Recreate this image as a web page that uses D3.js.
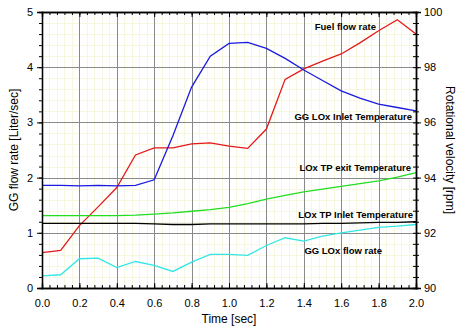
<!DOCTYPE html>
<meta charset="utf-8">
<style>
body { margin: 0; background: #fff; }
text { font-family: Arial, "Liberation Sans", sans-serif; }
.tick text { font-size: 11px; fill: #000; }
.label { font-size: 9.5px; font-weight: bold; }
.title { font-size: 12px; }
</style>
<svg width="459" height="328"></svg>
<script src="https://cdn.jsdelivr.net/npm/d3@7"></script>
<script>

// time axis, 0.1 s steps
var time = [0, 0.1, 0.2, 0.3, 0.4, 0.5, 0.6, 0.7, 0.8, 0.9, 1.0, 1.1, 1.2, 1.3, 1.4, 1.5, 1.6, 1.7, 1.8, 1.9, 2.0];

// values read in left-axis units (GG flow rate)
var fuelFlow    = [0.64, 0.68, 1.13, 1.47, 1.82, 2.41, 2.54, 2.54, 2.61, 2.63, 2.57, 2.53, 2.88, 3.78, 3.97, 4.11, 4.24, 4.44, 4.66, 4.86, 4.60];
var ggLoxInlet  = [1.86, 1.86, 1.85, 1.86, 1.85, 1.86, 1.96, 2.76, 3.64, 4.20, 4.43, 4.45, 4.34, 4.16, 3.95, 3.76, 3.57, 3.44, 3.33, 3.27, 3.21];
var loxTpExit   = [1.31, 1.31, 1.31, 1.31, 1.31, 1.32, 1.34, 1.36, 1.39, 1.42, 1.46, 1.53, 1.61, 1.68, 1.74, 1.79, 1.84, 1.89, 1.94, 2.01, 2.09];
var loxTpInlet  = [1.17, 1.17, 1.17, 1.17, 1.17, 1.17, 1.16, 1.15, 1.15, 1.16, 1.16, 1.16, 1.16, 1.16, 1.16, 1.17, 1.17, 1.18, 1.19, 1.19, 1.20];
var ggLoxFlow   = [0.22, 0.24, 0.53, 0.54, 0.37, 0.48, 0.41, 0.30, 0.47, 0.61, 0.61, 0.59, 0.77, 0.91, 0.85, 0.94, 1.00, 1.05, 1.10, 1.12, 1.15];

var seriesNames = ["Fuel flow rate", "GG LOx Inlet Temperature", "LOx TP exit Temperature", "LOx TP Inlet Temperature", "GG LOx flow rate"];
var seriesColors = ["#e31a1a", "#1a1ae0", "#22dd22", "#000000", "#33e6e6"];
var seriesValues = [fuelFlow, ggLoxInlet, loxTpExit, loxTpInlet, ggLoxFlow];

var xTicks = [0, 0.2, 0.4, 0.6, 0.8, 1.0, 1.2, 1.4, 1.6, 1.8, 2.0];
var yTicks = [0, 1, 2, 3, 4, 5];
var y2Ticks = [90, 92, 94, 96, 98, 100];

var svg = d3.select("svg"),
    margin = {top: 12, right: 43, bottom: 40, left: 42},
    width = 459 - margin.left - margin.right,
    height = 328 - margin.top - margin.bottom;

var x = d3.scaleLinear().domain([0, 2]).range([0, width]);
var y = d3.scaleLinear().domain([0, 5]).range([height, 0]);
var y2 = d3.scaleLinear().domain([90, 100]).range([height, 0]);

var g = svg.append("g")
    .attr("transform", "translate(" + margin.left + "," + margin.top + ")");

// minor grid (pale yellow)
var xMinor = d3.range(0, 2.0001, 0.04);
var yMinor = d3.range(0, 5.0001, 0.2);
g.append("g").selectAll("line").data(xMinor).enter().append("line")
    .attr("x1", d => Math.round(x(d)) + 0.5).attr("x2", d => Math.round(x(d)) + 0.5)
    .attr("y1", 0).attr("y2", height)
    .attr("stroke", "#f7f7e0");
g.append("g").selectAll("line").data(yMinor).enter().append("line")
    .attr("y1", d => Math.round(y(d)) + 0.5).attr("y2", d => Math.round(y(d)) + 0.5)
    .attr("x1", 0).attr("x2", width)
    .attr("stroke", "#f7f7e0");

// major grid
g.append("g").selectAll("line").data(xTicks).enter().append("line")
    .attr("x1", d => Math.round(x(d)) + 0.5).attr("x2", d => Math.round(x(d)) + 0.5)
    .attr("y1", 0).attr("y2", height)
    .attr("stroke", "#8a8a8a");
g.append("g").selectAll("line").data(yTicks).enter().append("line")
    .attr("y1", d => Math.round(y(d)) + 0.5).attr("y2", d => Math.round(y(d)) + 0.5)
    .attr("x1", 0).attr("x2", width)
    .attr("stroke", "#8a8a8a");

// series
var line = d3.line()
    .x((d, i) => x(time[i]))
    .y(d => y(d));

seriesValues.forEach(function(vals, k) {
  g.append("path")
      .datum(vals)
      .attr("fill", "none")
      .attr("stroke", seriesColors[k])
      .attr("stroke-width", 1.3)
      .attr("d", line);
});

// axes
function styleAxis(sel) {
  sel.select(".domain").attr("stroke", "#000").attr("stroke-width", 1.3);
  sel.selectAll(".tick line").attr("stroke", "#000");
}

g.append("g")
    .attr("transform", "translate(0," + height + ")")
    .call(d3.axisBottom(x).tickValues(xMinor).tickSize(-3).tickFormat(""))
    .call(styleAxis);
g.append("g")
    .attr("transform", "translate(0," + height + ")")
    .call(d3.axisBottom(x).tickValues(xTicks).tickSize(-5).tickPadding(11).tickFormat(d3.format(".1f")))
    .call(styleAxis);
g.append("g")
    .call(d3.axisTop(x).tickValues(xMinor).tickSize(-3).tickFormat(""))
    .call(styleAxis);
g.append("g")
    .call(d3.axisTop(x).tickValues(xTicks).tickSize(-5).tickFormat(""))
    .call(styleAxis);

g.append("g")
    .call(d3.axisLeft(y).tickValues(yMinor).tickSize(3).tickFormat(""))
    .call(styleAxis);
g.append("g")
    .call(d3.axisLeft(y).tickValues(yTicks).tickSize(5).tickPadding(4).tickFormat(d3.format("d")))
    .call(styleAxis);

var y2Minor = d3.range(90, 100.0001, 0.4);
var right = g.append("g").attr("transform", "translate(" + width + ",0)");
right.append("g")
    .call(d3.axisRight(y2).tickValues(y2Minor).tickSize(3).tickFormat(""))
    .call(styleAxis);
right.append("g")
    .call(d3.axisLeft(y2).tickValues(y2Minor).tickSize(3).tickFormat(""))
    .call(styleAxis);
right.append("g")
    .call(d3.axisRight(y2).tickValues(y2Ticks).tickSize(5).tickPadding(3).tickFormat(d3.format("d")))
    .call(styleAxis);

// series labels
var labelPos = [[376, 30], [412, 120], [411, 171], [413, 218], [382, 254]];
svg.append("g").selectAll("text").data(seriesNames).enter().append("text")
    .attr("class", "label")
    .attr("x", (d, i) => labelPos[i][0])
    .attr("y", (d, i) => labelPos[i][1])
    .attr("text-anchor", "end")
    .text(d => d);

// axis titles
svg.append("text")
    .attr("class", "title")
    .attr("transform", "translate(18," + (margin.top + height / 2) + ") rotate(-90)")
    .attr("text-anchor", "middle")
    .text("GG flow rate [Liter/sec]");
svg.append("text")
    .attr("class", "title")
    .attr("transform", "translate(446," + (margin.top + height / 2) + ") rotate(90)")
    .attr("text-anchor", "middle")
    .text("Rotational velocity [rpm]");
svg.append("text")
    .attr("class", "title")
    .attr("x", margin.left + width / 2)
    .attr("y", 323)
    .attr("text-anchor", "middle")
    .text("Time [sec]");

</script>
